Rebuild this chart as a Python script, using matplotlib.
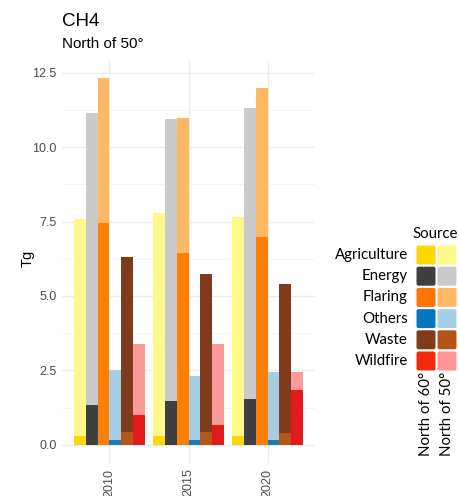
import numpy as np
import matplotlib
matplotlib.use('Agg')
import matplotlib.pyplot as plt
from matplotlib.patches import FancyBboxPatch

# ------------------------------------------------
# data (Tg CH4)
# ------------------------------------------------
years = ['2010', '2015', '2020']
sources = ['Agriculture', 'Energy', 'Flaring', 'Others', 'Waste', 'Wildfire']

# North of 50 deg (drawn behind)
n50 = {
    'Agriculture': [7.58, 7.79, 7.64],
    'Energy':      [11.17, 10.94, 11.31],
    'Flaring':     [12.32, 10.99, 11.98],
    'Others':      [2.52, 2.32, 2.45],
    'Waste':       [6.31, 5.73, 5.40],
    'Wildfire':    [3.38, 3.38, 2.45],
}
# North of 60 deg (drawn in front)
n60 = {
    'Agriculture': [0.30, 0.30, 0.30],
    'Energy':      [1.34, 1.48, 1.55],
    'Flaring':     [7.45, 6.44, 6.98],
    'Others':      [0.17, 0.15, 0.17],
    'Waste':       [0.43, 0.41, 0.39],
    'Wildfire':    [0.99, 0.65, 1.85],
}

# legend colours (North of 60 / North of 50)
leg60 = ['#FFD700', '#404040', '#FF7500', '#0677BE', '#7F3B1A', '#F22A0C']
leg50 = ['#FFF98C', '#CACACA', '#FFB863', '#A6D0E6', '#B5541A', '#FF9596']
# colours as they appear on the bars
bar50 = ['#FFF98C', '#CACACA', '#FFB863', '#A6CEE3', '#7F3B1C', '#FB9A99']
bar60 = ['#FFD700', '#404040', '#FF7F00', '#1F78B4', '#B5561B', '#E31A1C']

W, H = 460, 496
fig = plt.figure(figsize=(W / 100, H / 100), dpi=100)
ax = fig.add_axes([62 / W, 1 - 463 / H, (315 - 62) / W, (463 - 60) / H])

x = np.arange(len(years))
bw = 0.9 / len(sources)
for i, s in enumerate(sources):
    xs = x - 0.45 + bw * (i + 0.5)
    ax.bar(xs, n50[s], width=bw, color=bar50[i], linewidth=0, zorder=2)
    ax.bar(xs, n60[s], width=bw, color=bar60[i], linewidth=0, zorder=3)

ymax = max(max(v) for v in n50.values())
ax.set_ylim(-0.05 * ymax, 1.05 * ymax)
ax.set_xlim(-0.6, 2.6)
ax.set_yticks([0, 2.5, 5, 7.5, 10, 12.5])
ax.set_yticklabels(['0.0', '2.5', '5.0', '7.5', '10.0', '12.5'])
ax.set_yticks(np.arange(1.25, 12.6, 2.5), minor=True)
ax.set_xticks(x)
ax.set_xticklabels(years, rotation=90, va='top', ha='center')
ax.grid(True, which='major', color='#EBEBEB', linewidth=1.0, zorder=0)
ax.grid(True, which='minor', axis='y', color='#F3F3F3', linewidth=0.6, zorder=0)
ax.set_axisbelow(True)
for sp in ax.spines.values():
    sp.set_visible(False)
ax.tick_params(length=0, labelsize=9, labelcolor='#4D4D4D', pad=4)
ax.tick_params(which='minor', length=0)
for lab in ax.get_xticklabels() + ax.get_yticklabels():
    lab.set_fontfamily('Liberation Sans')

fig.text(28 / W, 1 - 258 / H, 'Tg', rotation=90, ha='center', va='center',
         fontsize=10.5, family='Liberation Sans')
fig.text(62 / W, 1 - 21 / H, 'CH4', ha='left', va='center',
         fontsize=13.5, family='Liberation Sans')
fig.text(62 / W, 1 - 44 / H, 'North of 50°', ha='left', va='center',
         fontsize=11, family='Liberation Sans')

# ------------------------------------------------
# bivariate legend, laid out in pixel coordinates
# ------------------------------------------------
lax = fig.add_axes([0, 0, 1, 1])
lax.set_xlim(0, W)
lax.set_ylim(H, 0)
lax.axis('off')
lfs = 10.8
lax.text(435, 234, 'Source', ha='center', va='center', fontsize=lfs, family='Lato')
k = 19
for i, s in enumerate(sources):
    yc = 255 + i * 21.2
    for j, c in enumerate([leg60[i], leg50[i]]):
        xc = 426 + j * 21
        lax.add_patch(FancyBboxPatch((xc - k / 2 + 2, yc - k / 2 + 2), k - 4, k - 4,
                                     boxstyle='round,pad=2', fc=c, ec='none'))
    lax.text(408, yc, s, ha='right', va='center', fontsize=lfs, family='Lato')
lax.text(426, 372, 'North of 60°', rotation=90, ha='center', va='top', fontsize=lfs, family='Lato')
lax.text(447, 372, 'North of 50°', rotation=90, ha='center', va='top', fontsize=lfs, family='Lato')

fig.savefig('out.png', dpi=100)
